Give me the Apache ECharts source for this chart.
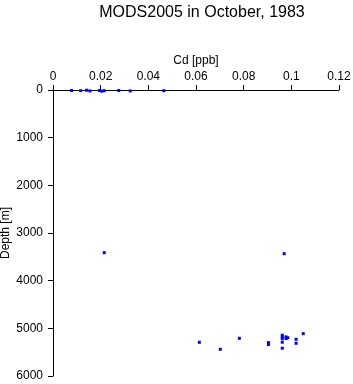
<!DOCTYPE html>
<html>
<head>
<meta charset="utf-8">
<script src="https://cdn.jsdelivr.net/npm/echarts@6/dist/echarts.min.js"></script>
<style>
  html, body { margin: 0; padding: 0; background: #fff; }
  #chart { width: 353px; height: 384px; }
</style>
</head>
<body>
<div id="chart"></div>
<script>
// Cd concentration [ppb] and sample depth [m]
var cdValues = [
    0.0078, 0.0116, 0.0141, 0.0155, 0.0195, 0.0205, 0.0215, 0.0276, 0.0324, 0.0465,
    0.0215, 0.0970,
    0.0614, 0.0702, 0.0782, 0.0904, 0.0904, 0.0962, 0.0962, 0.0962, 0.0962, 0.0962,
    0.0978, 0.0978, 0.0985, 0.1020, 0.1020, 0.1050
];
var depthValues = [
    10, 15, 5, 20, 10, 25, 15, 10, 20, 15,
    3413, 3434,
    5293, 5440, 5209, 5300, 5340, 5145, 5180, 5216, 5291, 5417,
    5180, 5215, 5196, 5230, 5314, 5112
];
var xTicks = { min: 0, max: 0.12, interval: 0.02 };
var yTicks = { min: 0, max: 6000, interval: 1000 };

var points = [];
for (var i = 0; i < cdValues.length; i++) {
    points.push([cdValues[i], depthValues[i]]);
}

var myChart = echarts.init(document.getElementById('chart'));
var fontFam = 'Liberation Sans, Arial, sans-serif';
var option = {
    animation: false,
    title: {
        text: 'MODS2005 in October, 1983',
        left: 197,
        textAlign: 'center',
        top: 0,
        textStyle: { fontSize: 16, fontWeight: 'normal', color: '#000', fontFamily: fontFam }
    },
    grid: { left: 53, top: 90, right: 14, bottom: 8, containLabel: false, outerBoundsMode: 'none' },
    xAxis: {
        type: 'value',
        position: 'top',
        min: xTicks.min, max: xTicks.max, interval: xTicks.interval,
        name: 'Cd [ppb]',
        nameLocation: 'middle',
        nameGap: 23,
        nameMoveOverlap: false,
        nameTextStyle: { fontSize: 12, color: '#000', fontFamily: fontFam },
        axisLine: { show: true, onZero: false, lineStyle: { color: '#000', width: 1 } },
        axisTick: { show: true, length: 5, lineStyle: { color: '#000' } },
        axisLabel: { fontSize: 12, color: '#000', margin: 7, fontFamily: fontFam },
        splitLine: { show: false }
    },
    yAxis: {
        type: 'value',
        inverse: true,
        min: yTicks.min, max: yTicks.max, interval: yTicks.interval,
        name: 'Depth [m]',
        nameLocation: 'middle',
        nameGap: 41,
        nameMoveOverlap: false,
        nameTextStyle: { fontSize: 12, color: '#000', fontFamily: fontFam },
        axisLine: { show: true, onZero: false, lineStyle: { color: '#000', width: 1 } },
        axisTick: { show: true, length: 5, lineStyle: { color: '#000' } },
        axisLabel: { fontSize: 12, color: '#000', margin: 10, fontFamily: fontFam,
            formatter: function (v) { return String(v); } },
        splitLine: { show: false }
    },
    series: [{
        type: 'scatter',
        data: points,
        symbol: 'rect',
        symbolSize: 3,
        itemStyle: { color: '#0000ff', opacity: 1 }
    }]
};
myChart.setOption(option);
</script>
</body>
</html>
